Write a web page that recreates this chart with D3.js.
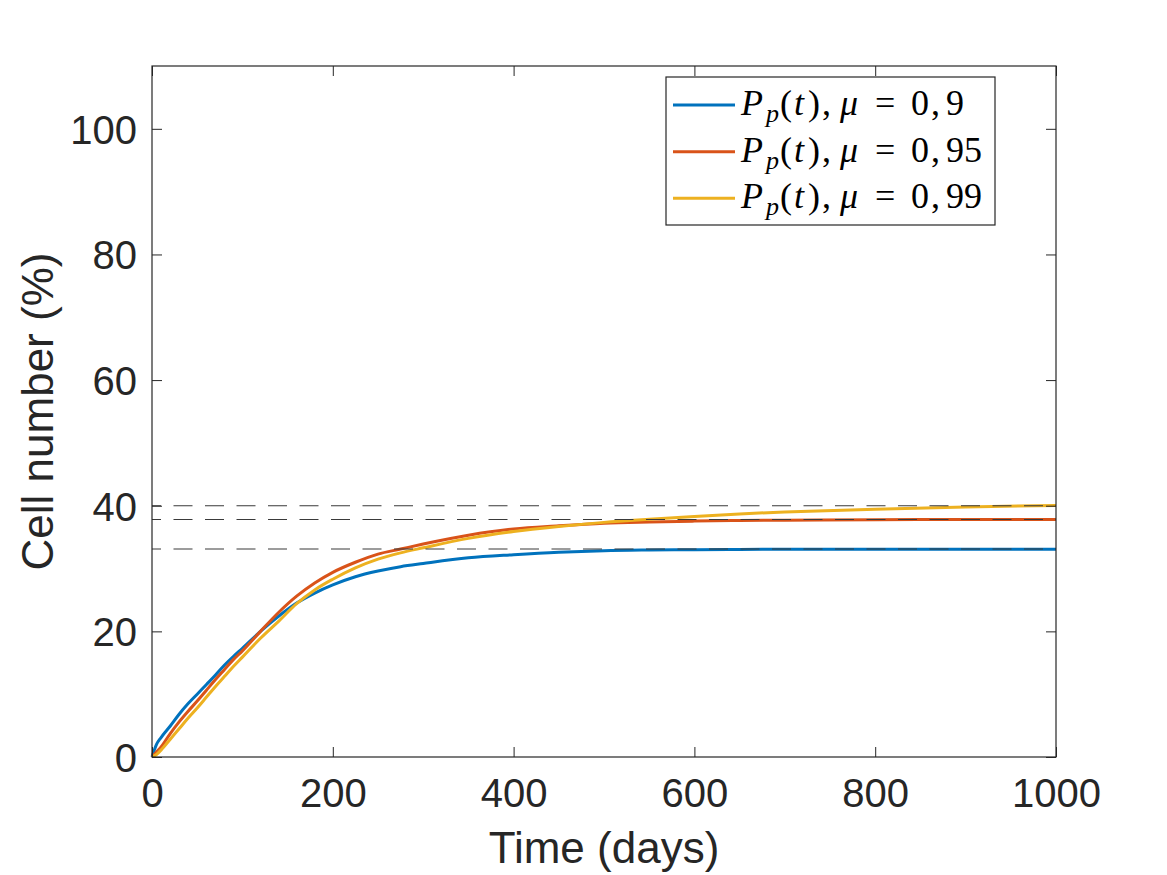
<!DOCTYPE html>
<html>
<head>
<meta charset="utf-8">
<script src="https://cdn.jsdelivr.net/npm/d3@7"></script>
<style>
  html, body { margin: 0; padding: 0; background: #fff; }
  svg { display: block; }
</style>
</head>
<body>
<svg id="chart" width="1167" height="875"></svg>
<script>
// ---- Data ----
const timeDays = [0, 5, 10, 20, 30, 40, 50, 60, 70, 80, 90, 100, 120, 140, 160, 180, 200, 225, 250, 275, 300, 350, 400, 450, 500, 550, 600, 650, 700, 800, 900, 1000];
const mu090 = [0, 2.0, 3.1, 4.9, 6.8, 8.5, 10.0, 11.5, 13.0, 14.6, 16.0, 17.3, 20.0, 22.4, 24.5, 26.1, 27.4, 28.7, 29.6, 30.3, 30.8, 31.7, 32.2, 32.6, 32.85, 32.95, 33.0, 33.05, 33.06, 33.08, 33.08, 33.08];
const mu095 = [0, 0.8, 1.6, 3.7, 5.6, 7.3, 8.9, 10.6, 12.3, 13.9, 15.5, 16.9, 20.0, 23.0, 25.6, 27.7, 29.4, 31.0, 32.3, 33.1, 33.9, 35.3, 36.3, 36.8, 37.2, 37.4, 37.55, 37.65, 37.7, 37.78, 37.8, 37.8];
const mu099 = [0, 0.4, 1.1, 2.8, 4.5, 6.2, 7.8, 9.5, 11.2, 12.8, 14.4, 15.9, 18.9, 21.6, 24.4, 26.6, 28.3, 30.1, 31.5, 32.5, 33.3, 34.8, 35.9, 36.7, 37.35, 37.85, 38.3, 38.7, 39.0, 39.45, 39.8, 40.05];
const seriesNames = ["0, 9", "0, 95", "0, 99"];
const seriesColors = ["#0072BD", "#D95319", "#EDB120"];
const plateauLevels = [40, 37.8, 33.1];
const xTicks = [0, 200, 400, 600, 800, 1000];
const yTicks = [0, 20, 40, 60, 80, 100];
const xLabel = "Time (days)";
const yLabel = "Cell number (%)";

// ---- Layout ----
const svg = d3.select("#chart");
const L = 152, R = 1056, T = 66, B = 757;
const axisColor = "#262626";
const x = d3.scaleLinear().domain([0, 1000]).range([L, R]);
const y = d3.scaleLinear().domain([0, 110]).range([B, T]);

// ---- Curves ----
const allSeries = [mu090, mu095, mu099];
const line = d3.line()
  .x((d, i) => x(timeDays[i]))
  .y(d => y(d))
  .curve(d3.curveMonotoneX);

const plotG = svg.append("g");
allSeries.forEach((s, k) => {
  plotG.append("path")
    .datum(s)
    .attr("d", line)
    .attr("fill", "none")
    .attr("stroke", seriesColors[k])
    .attr("stroke-width", 3)
    .attr("stroke-linejoin", "round");
});

// ---- Dashed plateau lines ----
plateauLevels.forEach(v => {
  plotG.append("line")
    .attr("x1", x(0)).attr("x2", x(1000))
    .attr("y1", y(v)).attr("y2", y(v))
    .attr("stroke", "#3a3a3a")
    .attr("stroke-width", 1.1)
    .attr("stroke-dasharray", "19,12.5")
    .attr("stroke-dashoffset", 10);
});

// ---- Axes (MATLAB-style box with inward ticks) ----
const tickLen = 10;
const fontTick = 40;
const fontLabel = 44;
const tickFont = "'Liberation Sans', Arial, Helvetica, sans-serif";

const xAxisB = d3.axisBottom(x).tickValues(xTicks).tickSize(-tickLen).tickPadding(22).tickFormat(d3.format("d"));
const xAxisT = d3.axisTop(x).tickValues(xTicks).tickSize(-tickLen).tickFormat("");
const yAxisL = d3.axisLeft(y).tickValues(yTicks).tickSize(-tickLen).tickPadding(15).tickFormat(d3.format("d"));
const yAxisR = d3.axisRight(y).tickValues(yTicks).tickSize(-tickLen).tickFormat("");

function style(g) {
  g.select(".domain").remove();
  g.selectAll(".tick line").attr("stroke", axisColor).attr("stroke-width", 1);
  g.selectAll(".tick text")
    .attr("fill", axisColor)
    .style("font-family", tickFont)
    .style("font-size", fontTick + "px");
}
svg.append("g").attr("transform", `translate(0,${B})`).call(xAxisB).call(style)
  .selectAll(".tick text").attr("dy", "0.71em");
svg.append("g").attr("transform", `translate(0,${T})`).call(xAxisT).call(style);
svg.append("g").attr("transform", `translate(${L},0)`).call(yAxisL).call(style)
  .selectAll(".tick text").attr("dy", "0.36em");
svg.append("g").attr("transform", `translate(${R},0)`).call(yAxisR).call(style);

// box
svg.append("rect")
  .attr("x", L).attr("y", T).attr("width", R - L).attr("height", B - T)
  .attr("fill", "none").attr("stroke", axisColor).attr("stroke-width", 1.2);

// axis labels
svg.append("text")
  .attr("x", (L + R) / 2).attr("y", 863)
  .attr("text-anchor", "middle")
  .attr("fill", axisColor)
  .style("font-family", tickFont).style("font-size", fontLabel + "px")
  .text(xLabel);
svg.append("text")
  .attr("transform", `translate(53,${(T + B) / 2}) rotate(-90)`)
  .attr("text-anchor", "middle")
  .attr("fill", axisColor)
  .style("font-family", tickFont).style("font-size", fontLabel + "px")
  .text(yLabel);

// ---- Legend ----
const legX = 666, legY = 77, legW = 329, legH = 148;
const leg = svg.append("g");
leg.append("rect")
  .attr("x", legX).attr("y", legY).attr("width", legW).attr("height", legH)
  .attr("fill", "#fff").attr("stroke", axisColor).attr("stroke-width", 1.2);
const rowY = [105, 151.7, 198.3];
const mathFont = "'Liberation Serif', 'DejaVu Serif', 'Times New Roman', serif";
seriesNames.forEach((name, k) => {
  const ly = rowY[k];
  leg.append("line")
    .attr("x1", 673).attr("x2", 735).attr("y1", ly).attr("y2", ly)
    .attr("stroke", seriesColors[k]).attr("stroke-width", 3);
  const t = leg.append("text")
    .attr("y", ly + 10)
    .attr("fill", "#000")
    .style("font-family", mathFont)
    .style("font-size", "36px");
  const parts = [
    { s: "P", x: 741, it: true },
    { s: "p", x: 766, it: true, sub: true },
    { s: "(", x: 780 },
    { s: "t", x: 794, it: true },
    { s: ")", x: 808 },
    { s: ",", x: 822 },
    { s: "μ", x: 840, it: true },
    { s: "=", x: 875 },
    { s: "0", x: 911 },
    { s: ",", x: 931 },
    { s: name.split(", ")[1], x: 946 }
  ];
  parts.forEach(p => {
    const ts = t.append("tspan").attr("x", p.x).text(p.s);
    if (p.it) ts.style("font-style", "italic");
    if (p.sub) ts.attr("y", ly + 17).style("font-size", "26px");
    else ts.attr("y", ly + 10);
  });
});
</script>
</body>
</html>
